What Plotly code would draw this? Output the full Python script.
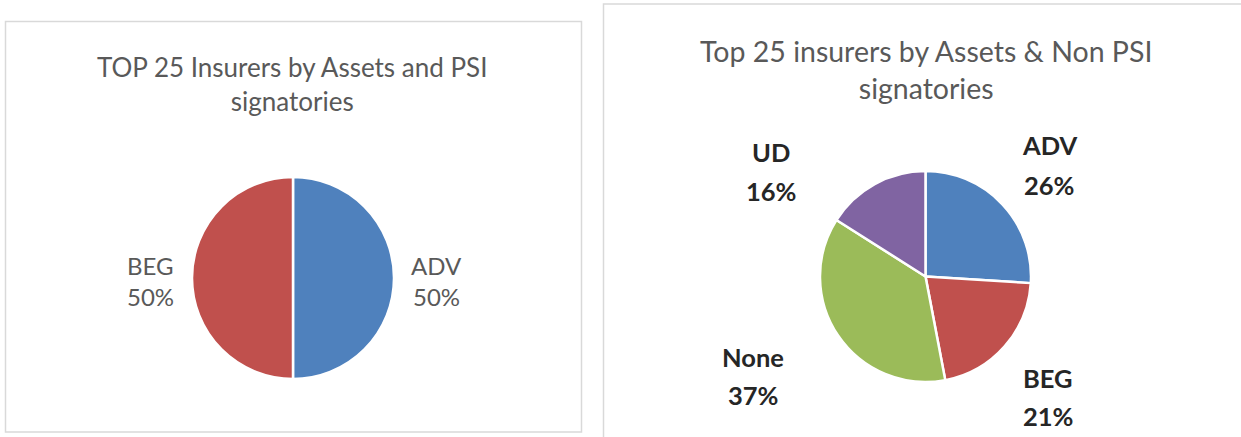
import plotly.graph_objects as go

W, H = 1241, 437

# --- data ---
psi_labels = ["ADV", "BEG"]
psi_values = [50, 50]

non_psi_labels = ["ADV", "BEG", "None", "UD"]
non_psi_values = [26, 21, 37, 16]

COLORS = {"ADV": "#4F81BD", "BEG": "#C0504D", "None": "#9BBB59", "UD": "#8064A2"}

# label anchor points in pixels (placement only): (x, y of name line, y of percent line)
psi_label_pos = {"ADV": (436, 265, 296), "BEG": (150, 265, 296)}
non_psi_label_pos = {
    "ADV": (1049, 145, 185),
    "BEG": (1048, 378, 416),
    "None": (753, 357, 395),
    "UD": (771, 152, 191),
}


def px_x(x):
    return x / W


def px_y(y):
    return 1 - y / H


fig = go.Figure()

# left pie
fig.add_trace(go.Pie(
    labels=psi_labels, values=psi_values,
    marker=dict(colors=[COLORS[l] for l in psi_labels], line=dict(color="white", width=2.5)),
    sort=False, direction="clockwise", rotation=0,
    textinfo="none", hoverinfo="label+percent",
    domain=dict(x=[px_x(192), px_x(394)], y=[px_y(379), px_y(177)]),
    showlegend=False,
))

# right pie
fig.add_trace(go.Pie(
    labels=non_psi_labels, values=non_psi_values,
    marker=dict(colors=[COLORS[l] for l in non_psi_labels], line=dict(color="white", width=2.5)),
    sort=False, direction="clockwise", rotation=0,
    textinfo="none", hoverinfo="label+percent",
    domain=dict(x=[px_x(820), px_x(1031)], y=[px_y(382), px_y(171)]),
    showlegend=False,
))

annotations = []


def note(text, x, y, size, color):
    annotations.append(dict(
        text=text, x=px_x(x), y=px_y(y), xref="paper", yref="paper",
        xanchor="center", yanchor="middle", showarrow=False,
        font=dict(family="Lato, sans-serif", size=size, color=color),
    ))


# titles
note("TOP 25 Insurers by Assets and PSI<br>signatories", 292, 84, 26, "#595959")
note("Top 25 insurers by Assets &amp; Non PSI<br>signatories", 926, 69, 28.5, "#595959")

# slice labels
psi_total = sum(psi_values)
for lab, val in zip(psi_labels, psi_values):
    x, y1, y2 = psi_label_pos[lab]
    note(lab, x, y1, 24, "#595959")
    note(f"{round(val / psi_total * 100)}%", x, y2, 24, "#595959")

non_psi_total = sum(non_psi_values)
for lab, val in zip(non_psi_labels, non_psi_values):
    x, y1, y2 = non_psi_label_pos[lab]
    note(f"<b>{lab}</b>", x, y1, 25.5, "#262626")
    note(f"<b>{round(val / non_psi_total * 100)}%</b>", x, y2, 25.5, "#262626")

# chart frames
shapes = [
    dict(type="rect", xref="paper", yref="paper",
         x0=px_x(5.5), x1=px_x(581.5), y0=px_y(432), y1=px_y(21.5),
         line=dict(color="#D9D9D9", width=1.5)),
    dict(type="rect", xref="paper", yref="paper",
         x0=px_x(603.5), x1=px_x(1250), y0=px_y(445), y1=px_y(4),
         line=dict(color="#D9D9D9", width=1.5)),
]

fig.update_layout(
    width=W, height=H,
    margin=dict(l=0, r=0, t=0, b=0),
    paper_bgcolor="white", plot_bgcolor="white",
    annotations=annotations, shapes=shapes,
)

fig.write_html("out.html", config={"displayModeBar": False},
               post_script="document.body.style.margin='0';")
